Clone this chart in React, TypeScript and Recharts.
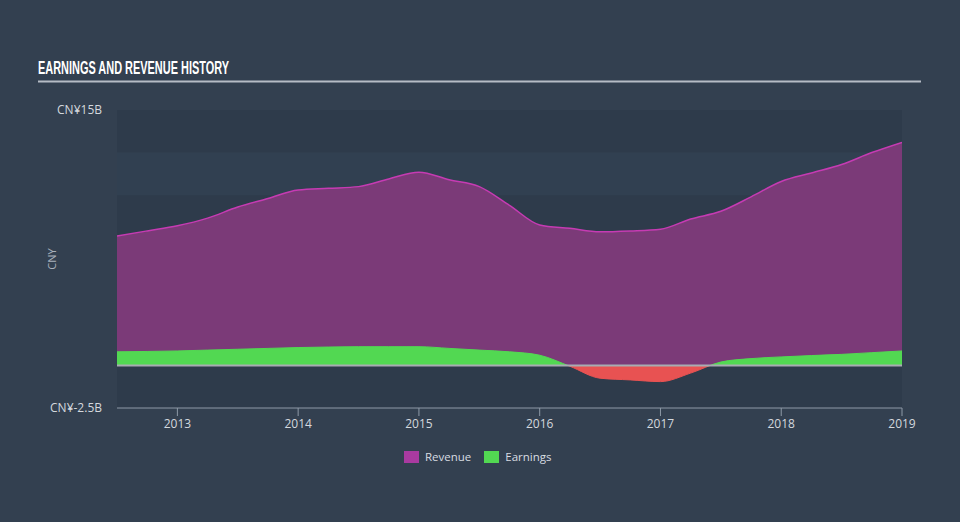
import React from "react";
import {
  ComposedChart,
  Area,
  XAxis,
  YAxis,
  ReferenceArea,
  ReferenceLine,
  Label,
} from "recharts";

// quarterly points, year as a decimal
const periods = [
  2012.5, 2012.75, 2013, 2013.25, 2013.5, 2013.75, 2014, 2014.25, 2014.5, 2014.75,
  2015, 2015.25, 2015.5, 2015.75, 2016, 2016.25, 2016.5, 2016.75, 2017, 2017.25,
  2017.5, 2017.75, 2018, 2018.25, 2018.5, 2018.75, 2019,
];
// CN¥ billions
const revenue = [
  7.6, 7.9, 8.2, 8.65, 9.3, 9.8, 10.3, 10.4, 10.5, 10.95,
  11.35, 10.9, 10.5, 9.4, 8.25, 8.05, 7.85, 7.9, 8.0, 8.6,
  9.05, 9.9, 10.8, 11.3, 11.8, 12.5, 13.1,
];
const earnings = [
  0.8, 0.82, 0.85, 0.9, 0.95, 1.0, 1.05, 1.08, 1.1, 1.1,
  1.1, 1.0, 0.9, 0.8, 0.6, -0.05, -0.75, -0.85, -0.95, -0.45,
  0.2, 0.4, 0.5, 0.58, 0.65, 0.75, 0.85,
];
const yearTicks = [2013, 2014, 2015, 2016, 2017, 2018, 2019];
const valueTicks = [-2.5, 15];
const bandEdges = [15, 12.5, 10, 7.5, 5, 2.5, 0, -2.5];

const data = periods.map((p, i) => ({ t: p, Revenue: revenue[i], Earnings: earnings[i] }));

const eMax = Math.max(...earnings);
const eMin = Math.min(...earnings);
const splitOffset = eMax / (eMax - eMin);

const fmtValue = (v: number) => `CN¥${v}B`;

// axis unit label, centred on the plot height
const UnitLabel = (props: any) => {
  const vb = props.viewBox || {};
  const cx = 56;
  const cy = (vb.y ?? 110) + (vb.height ?? 298) / 2;
  return (
    <text
      x={cx}
      y={cy}
      transform={`rotate(-90 ${cx} ${cy})`}
      textAnchor="middle"
      fill="#a9b1bc"
      fontSize={11}
    >
      CNY
    </text>
  );
};

export default function App() {
  return (
    <div
      style={{
        position: "absolute",
        left: 0,
        top: 0,
        width: 960,
        height: 522,
        background: "#334050",
        fontFamily: "'Open Sans', sans-serif",
      }}
    >
      <svg width={960} height={90} style={{ position: "absolute", left: 0, top: 0 }}>
        <text
          x={38}
          y={74}
          fill="#ffffff"
          fontFamily="'Liberation Sans Narrow', sans-serif"
          fontWeight="bold"
          fontSize={18}
          textLength={191}
          lengthAdjust="spacingAndGlyphs"
        >
          EARNINGS AND REVENUE HISTORY
        </text>
        <line x1={38} x2={921} y1={81.5} y2={81.5} stroke="#b6bcc5" strokeWidth={2} />
      </svg>

      <ComposedChart
        width={960}
        height={522}
        data={data}
        margin={{ top: 110, right: 58, bottom: 84, left: 0 }}
        style={{ position: "absolute", left: 0, top: 0 }}
      >
        <defs>
          <linearGradient id="earnSplit" x1="0" y1="0" x2="0" y2="1">
            <stop offset={splitOffset} stopColor="#52d852" />
            <stop offset={splitOffset} stopColor="#e85252" />
          </linearGradient>
        </defs>
        {bandEdges.slice(0, -1).map((top, i) => (
          <ReferenceArea
            key={top}
            y1={bandEdges[i + 1]}
            y2={top}
            fill={i % 2 === 0 || i === 6 ? "#2e3b4b" : "#314051"}
            fillOpacity={1}
            stroke="none"
            ifOverflow="hidden"
          />
        ))}
        <XAxis
          dataKey="t"
          type="number"
          domain={[2012.5, 2019]}
          ticks={yearTicks}
          height={30}
          stroke="#8e99a7"
          tickSize={8}
          tickMargin={3}
          tick={{ fill: "#d3d8de", fontSize: 12 }}
          allowDataOverflow
        />
        <YAxis
          type="number"
          domain={[-2.5, 15]}
          ticks={valueTicks}
          width={117}
          axisLine={false}
          tickLine={false}
          tickSize={0}
          tickMargin={15}
          tickFormatter={fmtValue}
          tick={{ fill: "#d3d8de", fontSize: 12 }}
          allowDataOverflow
        >
          <Label content={<UnitLabel />} />
        </YAxis>
        <Area
          type="monotone"
          dataKey="Revenue"
          fill="#7b3a78"
          fillOpacity={1}
          stroke="#c63bb3"
          strokeWidth={1.5}
          isAnimationActive={false}
          dot={false}
          activeDot={false}
        />
        <Area
          type="monotone"
          dataKey="Earnings"
          fill="url(#earnSplit)"
          fillOpacity={1}
          stroke="url(#earnSplit)"
          strokeWidth={1}
          isAnimationActive={false}
          dot={false}
          activeDot={false}
        />
        <ReferenceLine y={0} stroke="#a8acb2" strokeWidth={2} />
      </ComposedChart>

      <div
        style={{
          position: "absolute",
          left: 404,
          top: 449,
          display: "flex",
          alignItems: "center",
          fontSize: 11.5,
          color: "#d8dce2",
        }}
      >
        <span style={{ width: 15, height: 12, background: "#a93aa0", marginRight: 6 }} />
        <span style={{ marginRight: 13 }}>Revenue</span>
        <span style={{ width: 15, height: 12, background: "#52d852", marginRight: 6 }} />
        <span>Earnings</span>
      </div>
    </div>
  );
}
